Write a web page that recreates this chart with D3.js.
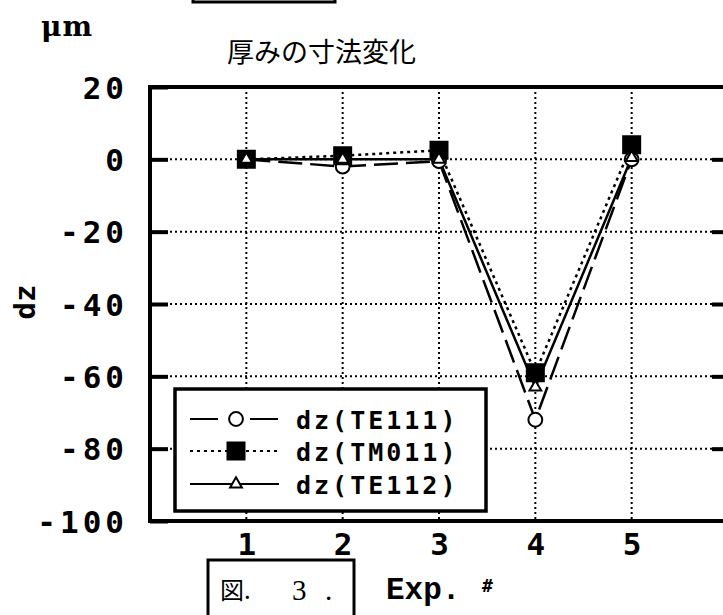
<!DOCTYPE html>
<html>
<head>
<meta charset="utf-8">
<script src="https://cdn.jsdelivr.net/npm/d3@7"></script>
<style>
  body { margin: 0; background: #fff; }
  svg { display: block; }
</style>
</head>
<body>
<script>
// experiment numbers and the three dz series (um)
var expNo = [1, 2, 3, 4, 5];
var dzTE111 = [0, -2, -0.5, -72, 0];
var dzTM011 = [0, 1, 2.5, -59, 4];
var dzTE112 = [0, 0, 0, -63, 0.5];
var yTicks = [20, 0, -20, -40, -60, -80, -100];
var gridY = [0, -20, -40, -60, -80];
var seriesNames = ["dz(TE111)", "dz(TM011)", "dz(TE112)"];

var W = 723, H = 615;
var plot = {left: 150, right: 728, top: 87, bottom: 521};

var svg = d3.select("body").append("svg")
    .attr("width", W)
    .attr("height", H);

var x = d3.scaleLinear().domain([0, 6]).range([plot.left, plot.right]);
var y = d3.scaleLinear().domain([-100, 20]).range([plot.bottom, plot.top]);

var numFont = "'DejaVu Sans Mono', monospace";

// dotted grid
svg.append("g").selectAll("line.gx")
    .data(expNo)
  .enter().append("line")
    .attr("x1", function(d) { return x(d); })
    .attr("x2", function(d) { return x(d); })
    .attr("y1", plot.top)
    .attr("y2", plot.bottom)
    .attr("stroke", "#000")
    .attr("stroke-width", 2)
    .attr("stroke-dasharray", "2,3");

svg.append("g").selectAll("line.gy")
    .data(gridY)
  .enter().append("line")
    .attr("x1", plot.left)
    .attr("x2", plot.right)
    .attr("y1", function(d) { return y(d); })
    .attr("y2", function(d) { return y(d); })
    .attr("stroke", "#000")
    .attr("stroke-width", 2)
    .attr("stroke-dasharray", "2,3");

// frame
svg.append("rect")
    .attr("x", plot.left)
    .attr("y", plot.top)
    .attr("width", plot.right - plot.left)
    .attr("height", plot.bottom - plot.top)
    .attr("fill", "none")
    .attr("stroke", "#000")
    .attr("stroke-width", 4);

// left axis with inward ticks, plain hyphen for minus
var yAxis = svg.append("g")
    .attr("transform", "translate(" + plot.left + ",0)")
    .call(d3.axisLeft(y).tickValues(yTicks).tickSizeInner(-18).tickSizeOuter(0)
      .tickPadding(22).tickFormat(function(d) { return String(d); }));
yAxis.select(".domain").remove();
yAxis.selectAll(".tick line").attr("stroke-width", 4);
yAxis.selectAll(".tick text")
    .attr("font-family", numFont)
    .attr("font-weight", "bold")
    .attr("font-size", 31)
    .attr("letter-spacing", 4)
    .attr("dy", "0.36em");

var yAxisR = svg.append("g")
    .attr("transform", "translate(" + plot.right + ",0)")
    .call(d3.axisRight(y).tickValues(gridY).tickSizeInner(-16).tickSizeOuter(0).tickFormat(""));
yAxisR.select(".domain").remove();
yAxisR.selectAll(".tick line").attr("stroke-width", 4);

var xAxis = svg.append("g")
    .attr("transform", "translate(0," + plot.bottom + ")")
    .call(d3.axisBottom(x).tickValues(expNo).tickSize(0).tickPadding(12).tickFormat(d3.format("d")));
xAxis.select(".domain").remove();
xAxis.selectAll(".tick text")
    .attr("font-family", numFont)
    .attr("font-weight", "bold")
    .attr("font-size", 31);

// series lines
var line = d3.line()
    .x(function(d, i) { return x(expNo[i]); })
    .y(function(d) { return y(d); });

svg.append("path").datum(dzTE111)
    .attr("d", line).attr("fill", "none").attr("stroke", "#000")
    .attr("stroke-width", 2.5).attr("stroke-dasharray", "24,8");
svg.append("path").datum(dzTM011)
    .attr("d", line).attr("fill", "none").attr("stroke", "#000")
    .attr("stroke-width", 2.5).attr("stroke-dasharray", "3,4");
svg.append("path").datum(dzTE112)
    .attr("d", line).attr("fill", "none").attr("stroke", "#000")
    .attr("stroke-width", 2.5);

var circleSym = d3.symbol().type(d3.symbolCircle).size(150);
var squareSym = d3.symbol().type(d3.symbolSquare).size(289);
var triSym = d3.symbol().type(d3.symbolTriangle).size(60);

function markers(data, sym, fill) {
  svg.append("g").selectAll("path")
      .data(data)
    .enter().append("path")
      .attr("transform", function(d, i) { return "translate(" + x(expNo[i]) + "," + y(d) + ")"; })
      .attr("d", sym)
      .attr("fill", fill)
      .attr("stroke", "#000")
      .attr("stroke-width", 2);
}
markers(dzTE111, circleSym, "#fff");
markers(dzTM011, squareSym, "#000");
markers(dzTE112, triSym, "#fff");

// legend
var lg = svg.append("g");
lg.append("rect")
    .attr("x", 175).attr("y", 389)
    .attr("width", 311).attr("height", 122)
    .attr("fill", "#fff").attr("stroke", "#000").attr("stroke-width", 3.5);

var rowY = [419, 451, 484];
var dashes = ["28,32", "3,4", null];
var syms = [circleSym, squareSym, triSym];
var fills = ["#fff", "#000", "#fff"];
seriesNames.forEach(function(name, i) {
  lg.append("line")
      .attr("x1", 190).attr("x2", 279)
      .attr("y1", rowY[i]).attr("y2", rowY[i])
      .attr("stroke", "#000").attr("stroke-width", 2)
      .attr("stroke-dasharray", dashes[i]);
  lg.append("path")
      .attr("transform", "translate(236," + rowY[i] + ")")
      .attr("d", syms[i])
      .attr("fill", fills[i])
      .attr("stroke", "#000")
      .attr("stroke-width", 2);
  lg.append("text")
      .attr("x", 296).attr("y", rowY[i] + 10)
      .attr("font-family", numFont)
      .attr("font-weight", "bold")
      .attr("font-size", 25)
      .attr("letter-spacing", 3)
      .text(name);
});

// titles and labels
svg.append("text")
    .attr("x", 227).attr("y", 62)
    .attr("font-family", "'Noto Sans CJK JP', sans-serif")
    .attr("font-size", 27)
    .text("厚みの寸法変化");

svg.append("text")
    .attr("x", 41).attr("y", 36)
    .attr("font-family", "'DejaVu Serif', serif")
    .attr("font-weight", "bold")
    .attr("font-size", 28)
    .attr("letter-spacing", 1)
    .text("μm");

svg.append("text")
    .attr("transform", "translate(35,302) rotate(-90)")
    .attr("text-anchor", "middle")
    .attr("font-family", numFont)
    .attr("font-weight", "bold")
    .attr("font-size", 29)
    .text("dz");

svg.append("text")
    .attr("x", 386).attr("y", 599)
    .attr("font-family", "'Liberation Mono', monospace")
    .attr("font-weight", "bold")
    .attr("font-size", 31)
    .text("Exp.");
svg.append("text")
    .attr("x", 482).attr("y", 592)
    .attr("font-family", numFont)
    .attr("font-weight", "bold")
    .attr("font-size", 18)
    .text("#");

// boxed captions
svg.append("rect")
    .attr("x", 193).attr("y", -10).attr("width", 142).attr("height", 12)
    .attr("fill", "none").attr("stroke", "#000").attr("stroke-width", 3);

svg.append("rect")
    .attr("x", 208).attr("y", 560).attr("width", 146).attr("height", 70)
    .attr("fill", "none").attr("stroke", "#000").attr("stroke-width", 3);
svg.append("text")
    .attr("x", 220).attr("y", 599)
    .attr("font-family", "'Noto Sans CJK JP', sans-serif")
    .attr("font-size", 24)
    .text("図.");
svg.append("text")
    .attr("x", 292).attr("y", 600)
    .attr("font-family", "'Liberation Serif', serif")
    .attr("font-size", 29)
    .text("3");
svg.append("text")
    .attr("x", 325).attr("y", 600)
    .attr("font-family", "'Liberation Serif', serif")
    .attr("font-size", 29)
    .text(".");
</script>
</body>
</html>
